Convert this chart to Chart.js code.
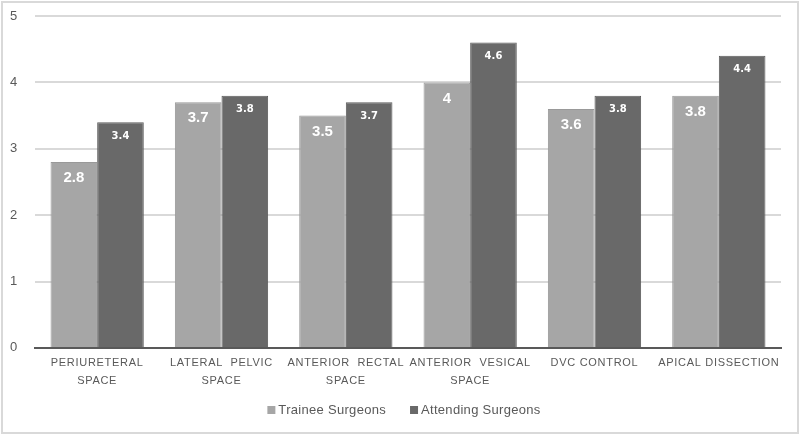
<!DOCTYPE html>
<html>
<head>
<meta charset="utf-8">
<script src="https://cdn.jsdelivr.net/npm/chart.js@4/dist/chart.umd.min.js"></script>
<style>
  html, body { margin: 0; padding: 0; background: #fff; }
  #wrap { width: 800px; height: 435px; position: relative; }
</style>
</head>
<body>
<div id="wrap"><canvas id="myChart" width="800" height="435"></canvas></div>
<script>
// chart data
const categories = [
    ['PERIURETERAL', 'SPACE'],
    ['LATERAL  PELVIC', 'SPACE'],
    ['ANTERIOR  RECTAL', 'SPACE'],
    ['ANTERIOR  VESICAL', 'SPACE'],
    'DVC CONTROL',
    'APICAL DISSECTION'
];
const traineeScores = [2.8, 3.7, 3.5, 4, 3.6, 3.8];
const attendingScores = [3.4, 3.8, 3.7, 4.6, 3.8, 4.4];
const seriesNames = ['Trainee Surgeons', 'Attending Surgeons'];

var lightGrey = '#a6a6a6';
var darkGrey = '#696969';
var textGrey = '#595959';

// white value labels inside the top of each bar
const valueLabels = {
    id: 'valueLabels',
    beforeDraw(chart) {
        // spaced-out letters for the axis text
        chart.ctx.letterSpacing = '0.7px';
    },
    beforeDatasetsDraw(chart) {
        chart.ctx.letterSpacing = '0px';
    },
    afterDatasetsDraw(chart) {
        const ctx = chart.ctx;
        ctx.save();
        ctx.fillStyle = '#ffffff';
        ctx.textAlign = 'center';
        ctx.textBaseline = 'middle';
        chart.data.datasets.forEach((ds, i) => {
            const meta = chart.getDatasetMeta(i);
            ctx.font = (i === 0) ? 'bold 15px "Liberation Sans"' : 'bold 10px "DejaVu Sans"';
            const off = (i === 0) ? 16 : 14;
            meta.data.forEach((bar, j) => {
                ctx.fillText(String(ds.data[j]), bar.x, bar.y + off);
            });
        });
        ctx.restore();
    }
};

// legend under the axis, drawn by hand so the spacing can match
const bottomLegend = {
    id: 'bottomLegend',
    afterDraw(chart) {
        const ctx = chart.ctx;
        ctx.save();
        ctx.font = '13px "Liberation Sans"';
        ctx.letterSpacing = '0.3px';
        ctx.textBaseline = 'middle';
        const box = 8, gapBox = 3, gapItem = 24;
        const colors = chart.data.datasets.map(d => d.backgroundColor);
        const widths = seriesNames.map(t => ctx.measureText(t).width);
        let total = 0;
        widths.forEach((w, i) => { total += box + gapBox + w + (i ? gapItem : 0); });
        let x = 404 - total / 2;
        const y = 410;
        seriesNames.forEach((t, i) => {
            ctx.fillStyle = colors[i];
            ctx.fillRect(x, y - box / 2, box, box);
            x += box + gapBox;
            ctx.fillStyle = textGrey;
            ctx.fillText(t, x, y);
            x += widths[i] + gapItem;
        });
        ctx.restore();
    }
};

// light frame round the picture
const frame = {
    id: 'frame',
    beforeDraw(chart) {
        const ctx = chart.ctx;
        ctx.save();
        ctx.strokeStyle = '#d9d9d9';
        ctx.lineWidth = 2;
        ctx.strokeRect(2, 2, chart.width - 4, chart.height - 4);
        ctx.restore();
    }
};

const ctx = document.getElementById('myChart').getContext('2d');
const chart = new Chart(ctx, {
    type: 'bar',
    data: {
        labels: categories,
        datasets: [{
            label: seriesNames[0],
            data: traineeScores,
            backgroundColor: lightGrey,
            borderColor: '#999999',
            borderWidth: 1
        }, {
            label: seriesNames[1],
            data: attendingScores,
            backgroundColor: darkGrey,
            borderColor: '#5c5c5c',
            borderWidth: 1
        }]
    },
    options: {
        responsive: false,
        animation: false,
        datasets: {
            bar: {
                categoryPercentage: 0.75,
                barPercentage: 1
            }
        },
        layout: {
            padding: {left: 5, right: 19, top: 16, bottom: 39}
        },
        plugins: {
            legend: {display: false},
            tooltip: {enabled: false}
        },
        scales: {
            x: {
                grid: {display: false, drawTicks: false},
                border: {color: '#595959', width: 2},
                ticks: {
                    color: textGrey,
                    padding: 6,
                    maxRotation: 0,
                    autoSkip: false,
                    font: {family: '"Liberation Sans"', size: 11, lineHeight: 1.64}
                }
            },
            y: {
                min: 0,
                max: 5,
                afterFit: function(scale) {
                    scale.width = 30;
                    scale.paddingTop = 0;
                    scale.paddingBottom = 0;
                },
                grid: {
                    color: '#d9d9d9',
                    lineWidth: 2,
                    drawTicks: false
                },
                border: {display: false},
                ticks: {
                    color: textGrey,
                    stepSize: 1,
                    padding: 17,
                    font: {family: '"Liberation Sans"', size: 13}
                }
            }
        }
    },
    plugins: [valueLabels, bottomLegend, frame]
});
</script>
</body>
</html>
